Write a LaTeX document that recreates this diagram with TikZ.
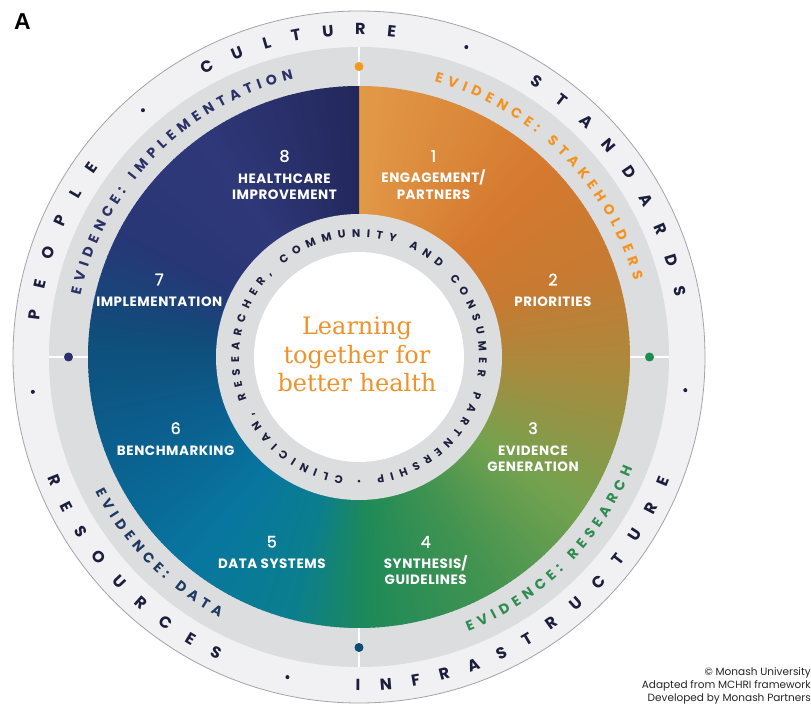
\documentclass[tikz,border=0pt]{standalone}
\usepackage{fontspec}
\usetikzlibrary{positioning,decorations.text}

\newfontfamily\popfont{Poppins}
\newfontfamily\poptrack[LetterSpace=4]{Poppins}
\newfontfamily\popnum[FakeBold=1.2]{Poppins}
\newfontfamily\serfont{DejaVu Serif}
\newfontfamily\panelfont{Liberation Sans}

\definecolor{ink}{HTML}{1B1E3C}
\definecolor{ringlight}{HTML}{F1F1F3}
\definecolor{ringmid}{HTML}{DCDDDF}
\definecolor{rimgrey}{HTML}{A4A4A8}
\definecolor{evnavy}{HTML}{2B3067}
\definecolor{evorange}{HTML}{F29322}
\definecolor{evgreen}{HTML}{2E8C50}
\definecolor{evblue}{HTML}{1E3A60}
\definecolor{titleorange}{HTML}{F0922A}
\definecolor{dotorange}{HTML}{F29A1F}
\definecolor{dotgreen}{HTML}{1E8B4F}
\definecolor{dotblue}{HTML}{0E4B76}
\definecolor{dotnavy}{HTML}{2C2F6E}
\definecolor{c0}{HTML}{E29A48}
\definecolor{c1}{HTML}{D5792F}
\definecolor{c2}{HTML}{C77A32}
\definecolor{c3}{HTML}{A88B3E}
\definecolor{c4}{HTML}{74A24F}
\definecolor{c5}{HTML}{449450}
\definecolor{c6}{HTML}{1E8A58}
\definecolor{c7}{HTML}{0B7E8E}
\definecolor{c8}{HTML}{0876A0}
\definecolor{c9}{HTML}{0B5F8E}
\definecolor{c10}{HTML}{0F4E7B}
\definecolor{c11}{HTML}{283776}
\definecolor{c12}{HTML}{2F3879}
\definecolor{c13}{HTML}{23285C}

\newcommand\ringfnt{\popfont\bfseries\fontsize{16}{18}\selectfont}
\newcommand\evfnt{\popfont\bfseries\fontsize{14}{16}\selectfont}
\newcommand\partfnt{\popfont\bfseries\fontsize{11}{13}\selectfont}

\begin{document}
\begin{tikzpicture}[
    x=1pt, y=1pt,
    node distance=11pt,
    num/.style={text=white, font=\popnum\fontsize{16}{18}\selectfont, inner sep=0pt},
    lbl/.style={text=white, font=\poptrack\bfseries\fontsize{13.5}{16.3}\selectfont, align=center, inner sep=0pt},
    cdot/.style={circle, inner sep=0pt, minimum size=9pt},
    sepdot/.style={circle, fill=ink, inner sep=0pt, minimum size=4pt},
    spoke/.style={draw=white, line width=1.6pt},
    word/.style 2 args={decorate, decoration={text along path, text align=fit to path, text={|#1|#2}}}
]
    \useasboundingbox (-359,-352) rectangle (452,357);
    \fill[white] (-359,-352) rectangle (452,357);

    \filldraw[fill=ringlight, draw=rimgrey, line width=0.8pt] (0,0) circle[radius=346];
    \fill[ringmid] (0,0) circle[radius=310];

    \foreach \ta/\tb/\ca/\cb in {0/45/c0/c1, 45/70/c1/c2, 70/95/c2/c3, 95/125/c3/c4, 125/150/c4/c5, 150/178/c5/c6, 178/195/c6/c7, 195/220/c7/c8, 220/250/c8/c9, 250/275/c9/c10, 275/298/c10/c11, 298/325/c11/c12, 325/360/c12/c13} {
        \pgfmathtruncatemacro\nst{\tb-\ta}
        \foreach \k in {1,...,\nst} {
            \pgfmathtruncatemacro\pc{100-100*(\k-0.5)/\nst}
            \fill[fill=\ca!\pc!\cb] (0,0) -- ({90-\ta-\k+1.3}:271) arc[start angle={90-\ta-\k+1.3}, end angle={90-\ta-\k}, radius=271] -- cycle;
        }
    }

    \fill[ringmid] (0,0) circle[radius=143];
    \fill[white] (0,0) circle[radius=105];

    \foreach \ang/\col [count=\i] in {90/dotorange, 0/dotgreen, -90/dotblue, 180/dotnavy} {
        \coordinate (r-\i-a) at (\ang:271);
        \coordinate (r-\i-b) at (\ang:310);
        \draw[spoke] (r-\i-a) -- (r-\i-b);
        \node[cdot, fill=\col] (d-\i) at (\ang:290.5) {};
    }

    \foreach \ang [count=\i] in {131.2, 70.9, -5.8, 257.4, 186.1}
        \node[sepdot] (s-\i) at (\ang:328) {};
    \node[sepdot, minimum size=3pt] (s-inner) at (270:124) {};

    \path[word={\ringfnt\color{ink}}{PEOPLE}] (173.5:322) arc[start angle=173.5, end angle=144, radius=322];
    \path[word={\ringfnt\color{ink}}{CULTURE}] (118.8:322) arc[start angle=118.8, end angle=83.5, radius=322];
    \path[word={\ringfnt\color{ink}}{STANDARDS}] (58:322) arc[start angle=58, end angle=10.7, radius=322];
    \path[word={\ringfnt\color{ink}}{INFRASTRUCTURE}] (-90.6:334) arc[start angle=-90.6, end angle=-21.6, radius=334];
    \path[word={\ringfnt\color{ink}}{RESOURCES}] (201.1:334) arc[start angle=201.1, end angle=245, radius=334];

    \path[word={\evfnt\color{evnavy}}{EVIDENCE: IMPLEMENTATION}] (167.5:285.5) arc[start angle=167.5, end angle=103.3, radius=285.5];
    \path[word={\evfnt\color{evorange}}{EVIDENCE: STAKEHOLDERS}] (74.7:285.5) arc[start angle=74.7, end angle=15.6, radius=285.5];
    \path[word={\evfnt\color{evgreen}}{EVIDENCE: RESEARCH}] (-68.3:295.5) arc[start angle=-68.3, end angle=-22.2, radius=295.5];
    \path[word={\evfnt\color{evblue}}{EVIDENCE: DATA}] (207.1:295.5) arc[start angle=207.1, end angle=241.8, radius=295.5];

    \path[word={\partfnt\color{ink}}{CLINICIAN, RESEARCHER, COMMUNITY AND CONSUMER PARTNERSHIP}] (262.5:120) arc[start angle=262.5, end angle=-81.5, radius=120];

    \foreach \n/\x/\y/\txt in {8/-74.5/201/{HEALTHCARE\\IMPROVEMENT}, 1/74.5/201/{ENGAGEMENT\smash{/}\\PARTNERS}, 2/194/77.5/PRIORITIES, 3/174/-71.2/{EVIDENCE\\GENERATION}, 4/66.7/-184.8/{SYNTHESIS\smash{/}\\GUIDELINES}, 5/-87.2/-184.8/{DATA SYSTEMS}, 6/-183.3/-71.2/BENCHMARKING, 7/-199.7/77.5/IMPLEMENTATION} {
        \node[num] (n-\n) at (\x,\y) {\n};
        \node[lbl, below=of n-\n] (l-\n) {\txt};
    }

    \node[align=center, inner sep=0pt, text=titleorange, font=\serfont\fontsize{24}{28.5}\selectfont] (title) at (-2,2.5) {Learning\\together for\\better health};

    \node[inner sep=0pt, font=\panelfont\bfseries\fontsize{23}{23}\selectfont] (panel) at (-336.5,335.3) {A};

    \node[align=right, anchor=east, inner sep=0pt, text=black!85, font=\popfont\fontsize{10.5}{12.8}\selectfont] (credit) at (452,-329) {© Monash University\\Adapted from MCHRI framework\\Developed by Monash Partners};
\end{tikzpicture}
\end{document}
